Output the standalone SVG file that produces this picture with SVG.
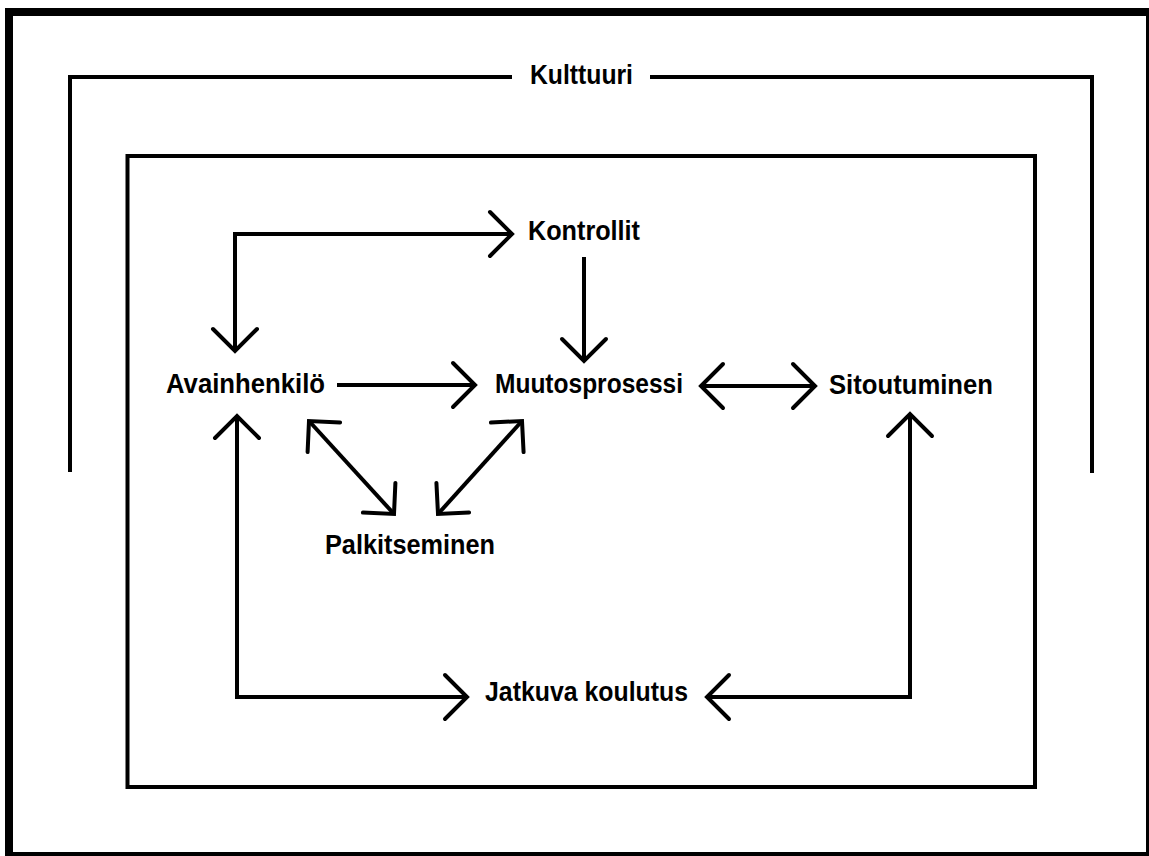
<svg xmlns="http://www.w3.org/2000/svg" width="1149" height="856" viewBox="0 0 1149 856">
<style>
.bg{fill:#fff}
.frame{fill:none;stroke:#000;stroke-width:8}
.box{fill:none;stroke:#000;stroke-width:4}
.conn{fill:none;stroke:#000;stroke-width:4;stroke-linejoin:miter}
.lbl{font-family:"Liberation Sans",Arial,sans-serif;font-weight:bold;font-size:27px;fill:#000}
</style>
<defs>
<marker id="ah" viewBox="-26 -26 30 52" refX="0" refY="0" markerWidth="30" markerHeight="52" markerUnits="userSpaceOnUse" orient="auto-start-reverse" overflow="visible">
<path d="M-22,-22 L0,0 L-22,22" fill="none" stroke="#000" stroke-width="4" stroke-linecap="round" stroke-linejoin="miter"/>
</marker>
</defs>
<rect class="bg" x="0" y="0" width="1149" height="856"/>
<rect class="frame" x="9" y="12" width="1141" height="844"/>
<g id="kulttuuri">
<path class="box" d="M70,472 L70,77 L512,77 M650,77 L1092,77 L1092,473"/>
<text class="lbl" x="530" y="84" textLength="103" lengthAdjust="spacingAndGlyphs">Kulttuuri</text>
</g>
<g id="organisaatio">
<rect class="box" x="127.5" y="156" width="907.5" height="631"/>
</g>
<g id="connectors">
<path class="conn" d="M235,351 L235,234 L512,234" marker-start="url(#ah)" marker-end="url(#ah)"/>
<path class="conn" d="M584,257 L584,361" marker-end="url(#ah)"/>
<path class="conn" d="M337,385 L475,385" marker-end="url(#ah)"/>
<path class="conn" d="M701,386 L815,386" marker-start="url(#ah)" marker-end="url(#ah)"/>
<path class="conn" d="M309,421 L394,514" marker-start="url(#ah)" marker-end="url(#ah)"/>
<path class="conn" d="M522,421 L438,514" marker-start="url(#ah)" marker-end="url(#ah)"/>
<path class="conn" d="M237,416 L237,697 L467,697" marker-start="url(#ah)" marker-end="url(#ah)"/>
<path class="conn" d="M910,414 L910,697 L707,697" marker-start="url(#ah)" marker-end="url(#ah)"/>
</g>
<g id="kontrollit"><text class="lbl" x="528" y="240" textLength="112" lengthAdjust="spacingAndGlyphs">Kontrollit</text></g>
<g id="avainhenkilo"><text class="lbl" x="166" y="393" textLength="159" lengthAdjust="spacingAndGlyphs">Avainhenkilö</text></g>
<g id="muutosprosessi"><text class="lbl" x="495" y="393" textLength="188" lengthAdjust="spacingAndGlyphs">Muutosprosessi</text></g>
<g id="sitoutuminen"><text class="lbl" x="829" y="394" textLength="164" lengthAdjust="spacingAndGlyphs">Sitoutuminen</text></g>
<g id="palkitseminen"><text class="lbl" x="325" y="554" textLength="170" lengthAdjust="spacingAndGlyphs">Palkitseminen</text></g>
<g id="jatkuva-koulutus"><text class="lbl" x="485" y="701" textLength="203" lengthAdjust="spacingAndGlyphs">Jatkuva koulutus</text></g>
</svg>
